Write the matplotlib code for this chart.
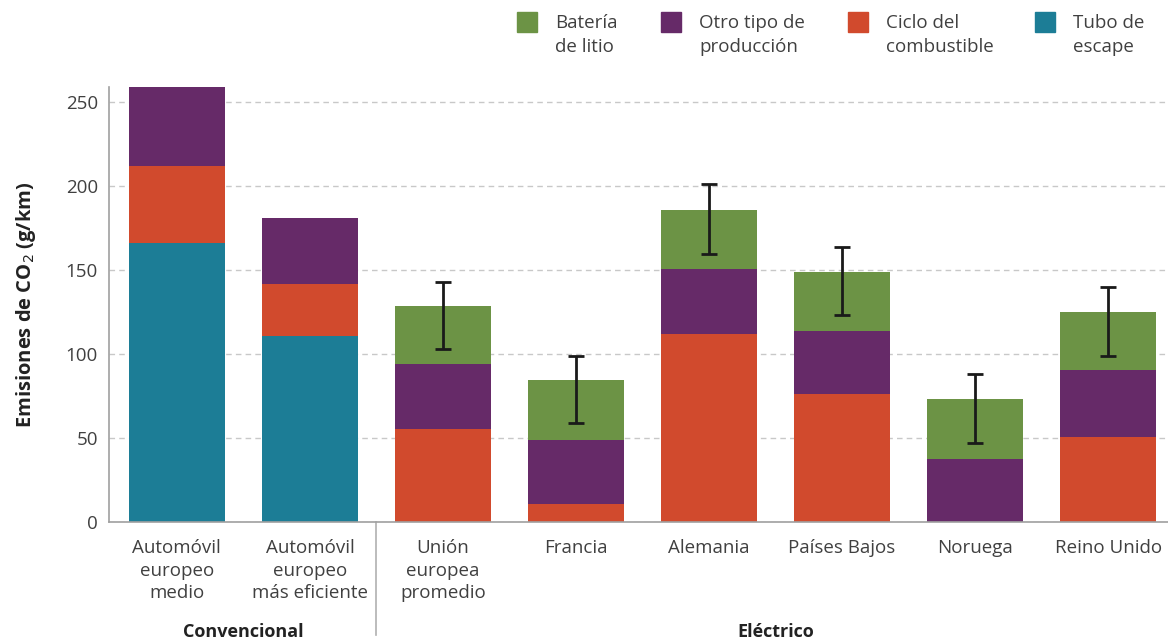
import matplotlib
matplotlib.use("Agg")
import matplotlib.pyplot as plt
import numpy as np
from matplotlib.patches import Rectangle
from matplotlib.lines import Line2D

plt.rcParams["font.family"] = ["Open Sans", "DejaVu Sans"]

categories = ["Automóvil\neuropeo\nmedio", "Automóvil\neuropeo\nmás eficiente",
              "Unión\neuropea\npromedio", "Francia", "Alemania", "Países Bajos",
              "Noruega", "Reino Unido"]
tubo_escape = [166, 111, 0, 0, 0, 0, 0, 0]
ciclo_combustible = [46, 31, 55.5, 10.5, 112, 76, 0, 50.5]
otro_produccion = [47, 39, 38.5, 38.5, 38.5, 37.5, 37.5, 40]
bateria_litio = [0, 0, 34.5, 35.5, 35, 35.5, 35.5, 34.5]
err_low = [None, None, 103, 59, 159.5, 123, 47, 99]
err_high = [None, None, 143, 99, 201, 164, 88, 140]

series = [("Tubo de\nescape", tubo_escape, "#1C7D96"),
          ("Ciclo del\ncombustible", ciclo_combustible, "#D14A2D"),
          ("Otro tipo de\nproducción", otro_produccion, "#662A68"),
          ("Batería\nde litio", bateria_litio, "#6C9345")]

fig = plt.figure(figsize=(11.68, 6.43), dpi=100)
ax = fig.add_axes([109 / 1168, 1 - 522 / 643, (1168 - 109) / 1168, (522 - 87) / 643])

x = np.arange(len(categories))
bottom = np.zeros(len(categories))
for name, vals, color in series:
    vals = np.array(vals, dtype=float)
    ax.bar(x, vals, 0.72, bottom=bottom, color=color, zorder=2)
    bottom += vals

for i, (lo, hi) in enumerate(zip(err_low, err_high)):
    if lo is None:
        continue
    mid = (lo + hi) / 2
    ax.errorbar(i, mid, yerr=(hi - lo) / 2, color="#1a1a1a", lw=2,
                capsize=6, capthick=2, zorder=3)

ax.set_xlim(-0.51, 7.45)
ax.set_ylim(0, 259)
ax.set_yticks([0, 50, 100, 150, 200, 250])
ax.yaxis.grid(True, ls=(0, (4, 3)), color="#c8c8c8", lw=1, zorder=0)
ax.set_axisbelow(True)
for s in ("top", "right"):
    ax.spines[s].set_visible(False)
for s in ("left", "bottom"):
    ax.spines[s].set_color("#a0a0a0")
    ax.spines[s].set_linewidth(1.2)
ax.tick_params(axis="y", length=0, labelsize=13.5, colors="#404040", pad=8)
ax.tick_params(axis="x", length=0, labelsize=13.5, colors="#404040", pad=12)
ax.set_xticks(x)
ax.set_xticklabels(categories, linespacing=1.35)
ax.set_ylabel("Emisiones de CO$_2$ (g/km)", fontsize=14.5, fontweight="bold",
              color="#222222", labelpad=20)

# separator between conventional and electric groups
ax.add_line(Line2D([1.5, 1.5], [0, -67], color="#b0b0b0", lw=1.2,
                   transform=ax.transData, clip_on=False))
ax.text(0.5, -65.5, "Convencional", ha="center", va="center", fontsize=13,
        fontweight="bold", color="#222222", clip_on=False)
ax.text(4.5, -65.5, "Eléctrico", ha="center", va="center", fontsize=13,
        fontweight="bold", color="#222222", clip_on=False)

# legend: swatch and two-line label per series
legend_items = [("Batería\nde litio", "#6C9345", 517),
                ("Otro tipo de\nproducción", "#662A68", 661),
                ("Ciclo del\ncombustible", "#D14A2D", 848),
                ("Tubo de\nescape", "#1C7D96", 1035)]
for label, color, px in legend_items:
    fig.patches.append(Rectangle((px / 1168, 1 - 32 / 643), 20 / 1168, 20 / 643,
                                 transform=fig.transFigure, color=color))
    fig.text((px + 38) / 1168, 1 - 35 / 643, label, ha="left", va="center",
             fontsize=13.5, color="#404040", linespacing=1.45)

fig.savefig("out.png", dpi=100)
